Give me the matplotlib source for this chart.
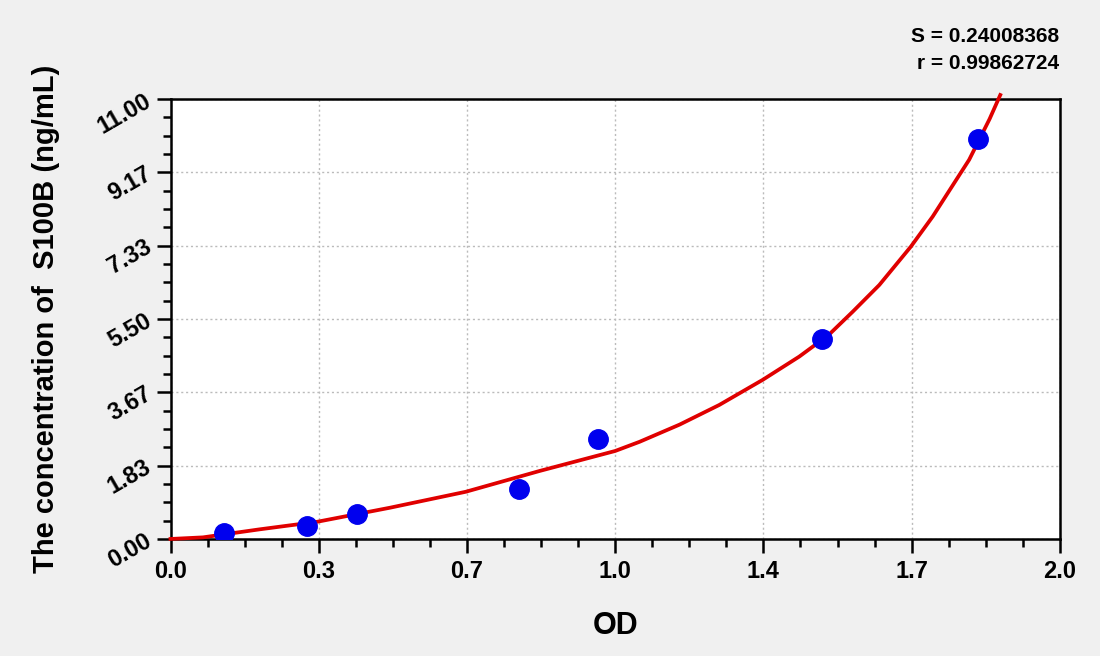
import matplotlib.pyplot as plt
import numpy as np

plt.rcParams['font.family'] = ['Liberation Sans', 'DejaVu Sans']
plt.rcParams['font.weight'] = 'bold'

# standard points (OD vs concentration)
od = [0.120, 0.307, 0.419, 0.783, 0.962, 1.465, 1.817]
conc = [0.156, 0.313, 0.625, 1.25, 2.5, 5.0, 10.0]

# fitted curve
curve_x = [0.0, 0.073, 0.20, 0.33, 0.493, 0.664, 0.83, 1.0, 1.055, 1.145, 1.234,
           1.332, 1.414, 1.48, 1.534, 1.594, 1.665, 1.714, 1.774, 1.796,
           1.842, 1.866]
curve_y = [0.0, 0.04, 0.24, 0.43, 0.78, 1.18, 1.70, 2.20, 2.43, 2.86, 3.35,
           3.98, 4.56, 5.1, 5.68, 6.35, 7.31, 8.06, 9.1, 9.48,
           10.5, 11.1]

x_ticks = [0, 1 / 3, 2 / 3, 1, 4 / 3, 5 / 3, 2]
x_labels = ['0.0', '0.3', '0.7', '1.0', '1.4', '1.7', '2.0']
y_ticks = [0, 11 / 6, 22 / 6, 33 / 6, 44 / 6, 55 / 6, 11]
y_labels = ['0.00', '1.83', '3.67', '5.50', '7.33', '9.17', '11.00']

fig = plt.figure(figsize=(11, 6.56), dpi=100, facecolor='#f0f0f0')
ax = fig.add_axes([0.155, 0.1784, 0.8085, 0.6707])
ax.set_facecolor('white')

ax.plot(curve_x, curve_y, color='#e00000', linewidth=2.7, clip_on=False, zorder=3,
        solid_joinstyle='round')
ax.plot(od, conc, 'o', color='#0000ee', markersize=14, zorder=4)

ax.set_xlim(0, 2)
ax.set_ylim(0, 11)
ax.set_xticks(x_ticks)
ax.set_xticklabels(x_labels, fontsize=17, fontweight='bold')
ax.set_yticks(y_ticks)
ax.set_yticklabels(y_labels, fontsize=17, fontweight='bold', rotation=30,
                   ha='right', va='center', rotation_mode='anchor')
ax.set_xticks(np.arange(0, 2.0001, 1 / 12), minor=True)
ax.set_yticks(np.arange(0, 11.0001, 11 / 24), minor=True)
ax.tick_params(which='major', length=10, width=1.8, direction='out', pad=5)
ax.tick_params(which='minor', length=6, width=1.8, direction='out')
for s in ax.spines.values():
    s.set_linewidth(1.8)

ax.grid(True, which='major', linestyle=(0, (1.5, 2)), color='#bbbbbb', linewidth=1)
ax.set_axisbelow(True)

ax.set_xlabel('OD', fontsize=22, fontweight='bold', labelpad=20)
ax.set_ylabel('The concentration of  S100B (ng/mL)', fontsize=21, fontweight='bold',
              labelpad=24)

fig.text(0.963, 0.945, 'S = 0.24008368', ha='right', va='center', fontsize=15,
         fontweight='bold')
fig.text(0.963, 0.903, 'r = 0.99862724', ha='right', va='center', fontsize=15,
         fontweight='bold')

fig.savefig('out.png', dpi=100, facecolor=fig.get_facecolor())
